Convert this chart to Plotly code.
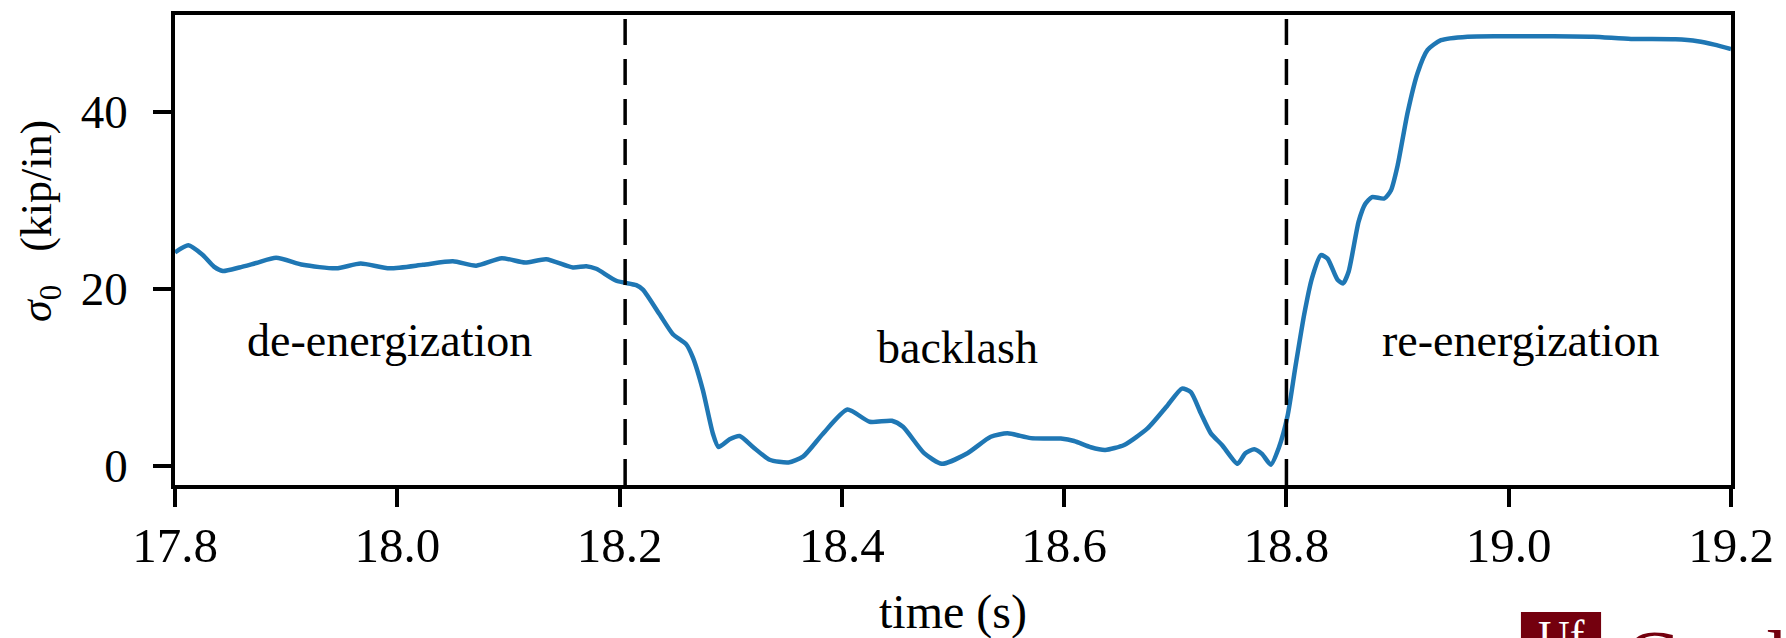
import plotly.graph_objects as go

# time (s) and sigma_0 (kip/in)
time_s = [17.800, 17.812, 17.825, 17.835, 17.843, 17.858, 17.873, 17.891, 17.915, 17.945,
          17.967, 17.993, 18.023, 18.050, 18.071, 18.094, 18.115, 18.134, 18.158, 18.170,
          18.179, 18.197, 18.215, 18.221, 18.236, 18.248, 18.260, 18.266, 18.275, 18.284,
          18.289, 18.299, 18.308, 18.320, 18.335, 18.352, 18.365, 18.383, 18.405, 18.425,
          18.445, 18.455, 18.474, 18.490, 18.513, 18.534, 18.549, 18.570, 18.597, 18.609,
          18.624, 18.637, 18.654, 18.675, 18.693, 18.706, 18.714, 18.723, 18.732, 18.742,
          18.756, 18.763, 18.771, 18.778, 18.786, 18.793, 18.801, 18.808, 18.816, 18.823,
          18.831, 18.837, 18.846, 18.851, 18.856, 18.865, 18.871, 18.877, 18.888, 18.894,
          18.900, 18.909, 18.918, 18.927, 18.939, 18.963, 18.993, 19.040, 19.076, 19.110,
          19.150, 19.170, 19.185, 19.200]
sigma0 = [24.1, 24.9, 23.8, 22.5, 22.0, 22.4, 22.9, 23.5, 22.7, 22.3,
          22.85, 22.3, 22.7, 23.1, 22.6, 23.45, 22.96, 23.33, 22.4, 22.55,
          22.25, 20.9, 20.4, 19.9, 17.1, 14.85, 13.7, 12.2, 8.5, 3.6,
          2.1, 2.97, 3.34, 2.1, 0.65, 0.35, 1.0, 3.6, 6.33, 4.95,
          5.06, 4.38, 1.4, 0.2, 1.4, 3.26, 3.64, 3.1, 3.05, 2.78,
          2.07, 1.77, 2.33, 4.2, 6.8, 8.7, 8.3, 5.9, 3.64, 2.33,
          0.2, 1.4, 1.85, 1.32, 0.1, 1.96, 5.6, 11.1, 17.1, 21.2,
          23.8, 23.4, 21.0, 20.6, 21.95, 27.6, 29.6, 30.36, 30.2, 31.1,
          33.9, 39.9, 44.4, 47.0, 48.1, 48.5, 48.55, 48.56, 48.5, 48.25,
          48.2, 47.98, 47.6, 47.1]

phase_bounds = [18.205, 18.80]
phase_labels = ["de-energization", "backlash", "re-energization"]
phase_label_x = [17.993, 18.504, 19.011]
phase_label_y = [14.1, 13.4, 14.1]

x_ticks = [17.8, 18.0, 18.2, 18.4, 18.6, 18.8, 19.0, 19.2]
y_ticks = [0, 20, 40]

serif = "Liberation Serif, Times New Roman, serif"

fig = go.Figure()
fig.add_trace(go.Scatter(x=time_s, y=sigma0, mode="lines",
                         line=dict(color="#1f77b4", width=4.5, shape="spline", smoothing=0.6),
                         showlegend=False))

# phase boundaries
for xb in phase_bounds:
    fig.add_vline(x=xb, line=dict(color="black", width=3.5, dash="26px,14px"))

# phase names
for lab, lx, ly in zip(phase_labels, phase_label_x, phase_label_y):
    fig.add_annotation(x=lx, y=ly, text=lab, showarrow=False,
                       font=dict(family=serif, size=46, color="black"))

# axis titles
fig.add_annotation(xref="paper", yref="paper", x=-0.087, y=0.561, xanchor="center", yanchor="middle",
                   text="<i>σ</i><sub>0</sub>   (kip/in)", textangle=-90, showarrow=False,
                   font=dict(family=serif, size=44, color="black"))
fig.add_annotation(xref="paper", yref="paper", x=0.5, y=-0.27, xanchor="center", yanchor="middle",
                   text="time (s)", showarrow=False,
                   font=dict(family=serif, size=48, color="black"))

# logo fragment in the bottom-right corner (cut off by the page edge)
fig.add_shape(type="rect", xref="paper", yref="paper", x0=0.865, x1=0.9165, y0=-0.34, y1=-0.27,
              fillcolor="#74000e", line=dict(width=0), layer="above")
fig.add_annotation(xref="paper", yref="paper", x=0.891, y=-0.267, xanchor="center", yanchor="top",
                   text="Uf", showarrow=False,
                   font=dict(family=serif, size=44, color="white"))
fig.add_annotation(xref="paper", yref="paper", x=0.930, y=-0.2726, xanchor="left", yanchor="top",
                   text="Gratl", showarrow=False,
                   font=dict(family=serif, size=80, color="#74000e"))

axis_common = dict(showline=True, linecolor="black", linewidth=3.5, mirror=True,
                   ticks="outside", ticklen=18, tickwidth=3.5, tickcolor="black",
                   showgrid=False, zeroline=False)

fig.update_xaxes(range=[17.8, 19.2], tickvals=x_ticks,
                 ticktext=[f"{v:.1f}" for v in x_ticks], ticklabelstandoff=-4,
                 tickfont=dict(family=serif, size=49, color="black"), **axis_common)
fig.update_yaxes(range=[-2.2, 50.95], tickvals=y_ticks,
                 ticktext=[str(v) for v in y_ticks], ticklabelstandoff=16,
                 tickfont=dict(family=serif, size=47, color="black"), **axis_common)

fig.update_layout(width=1786, height=638,
                  margin=dict(l=175, r=55, t=11, b=153),
                  paper_bgcolor="white", plot_bgcolor="white")

fig.write_html("out.html", config={"displayModeBar": False},
               post_script="document.body.style.margin='0';")
